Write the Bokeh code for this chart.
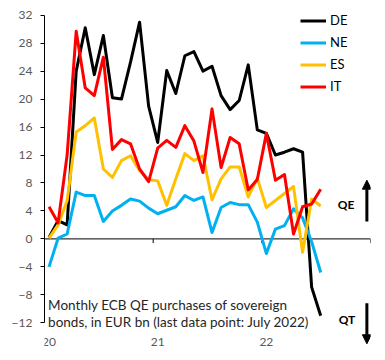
from bokeh.plotting import figure
from bokeh.models import (Range1d, FixedTicker, Span, Legend, LegendItem, Label,
                          Arrow, NormalHead)
from bokeh.embed import file_html
from bokeh.resources import INLINE

# Monthly ECB QE purchases of sovereign bonds, EUR bn, Jan 2020 .. Jul 2022
MONTHS = list(range(31))
DE = [0.2, 2.6, 2.0, 24.0, 30.2, 23.5, 29.1, 20.2, 20.0, 25.3, 31.0, 19.0,
      13.8, 24.1, 20.8, 26.2, 26.8, 24.0, 24.7, 20.5, 18.5, 19.8, 24.9, 15.6,
      15.1, 12.0, 12.4, 12.9, 12.4, -6.9, -11.0]
NE = [-4.0, 0.1, 0.7, 6.7, 6.2, 6.2, 2.5, 4.0, 4.8, 5.7, 5.4, 4.4,
      3.6, 4.1, 4.6, 6.2, 5.5, 6.0, 0.9, 4.5, 5.2, 4.9, 4.9, 2.4,
      -2.1, 1.4, 1.9, 4.3, 3.0, -0.4, -4.8]
ES = [0.1, 2.0, 5.5, 15.3, 16.2, 17.3, 10.0, 8.8, 11.2, 11.9, 9.8, 8.5,
      8.3, 4.8, 8.6, 12.2, 11.2, 11.9, 5.6, 8.6, 10.3, 10.3, 6.0, 8.7,
      4.5, 5.5, 6.5, 7.5, -1.9, 5.7, 4.7]
IT = [4.6, 2.3, 12.0, 29.7, 21.6, 20.5, 26.0, 12.8, 14.2, 13.6, 10.0, 8.2,
      13.0, 14.1, 13.1, 16.2, 14.0, 9.5, 18.6, 10.2, 14.5, 13.6, 7.0, 8.5,
      15.1, 8.4, 9.2, 0.7, 4.6, 5.0, 7.1]

SERIES_NAMES = ["DE", "NE", "ES", "IT"]
SERIES_VALUES = [DE, NE, ES, IT]
COLORS = ["#000000", "#00B0F0", "#FFC000", "#FF0000"]

Y_TICKS = list(range(-12, 33, 4))
YEAR_TICKS = [0, 12, 24]
YEAR_LABELS = ["20", "21", "22"]
YEAR_BOUNDS = [11.5, 23.5, 35.5]

FONT = "Lato"

p = figure(width=385, height=360, output_backend="svg", toolbar_location=None,
           x_range=Range1d(-0.5, 35.5), y_range=Range1d(-16.68, 33.39),
           min_border_left=44, min_border_right=15, min_border_top=5,
           min_border_bottom=5)
p.outline_line_color = None
p.grid.grid_line_color = None
p.background_fill_color = "white"

# y axis
p.yaxis.ticker = FixedTicker(ticks=Y_TICKS)
p.yaxis.bounds = (-12, 32)
p.yaxis.axis_line_color = "black"
p.yaxis.major_tick_line_color = "black"
p.yaxis.major_tick_out = 4
p.yaxis.major_tick_in = 0
p.yaxis.minor_tick_line_color = None
p.yaxis.major_label_standoff = 8
p.yaxis.major_label_text_font = FONT
p.yaxis.major_label_text_font_size = "12px"
p.yaxis.major_label_text_color = "#595959"

# x axis (labels only, low position)
p.xaxis.fixed_location = -12
p.xaxis.ticker = FixedTicker(ticks=YEAR_TICKS)
p.xaxis.major_label_overrides = {t: l for t, l in zip(YEAR_TICKS, YEAR_LABELS)}
p.xaxis.axis_line_color = None
p.xaxis.major_tick_line_color = None
p.xaxis.minor_tick_line_color = None
p.xaxis.major_tick_out = 0
p.xaxis.major_tick_in = 0
p.xaxis.major_label_standoff = 15
p.xaxis.major_label_text_font = FONT
p.xaxis.major_label_text_font_size = "12px"
p.xaxis.major_label_text_color = "#595959"

# zero line with year ticks
p.add_layout(Span(location=0, dimension="width", line_color="black",
                  line_width=1, level="underlay"))
p.segment(x0=YEAR_BOUNDS, y0=[0] * len(YEAR_BOUNDS), x1=YEAR_BOUNDS,
          y1=[-0.6] * len(YEAR_BOUNDS), line_color="black", line_width=1)

items = []
for name, vals, color in zip(SERIES_NAMES, SERIES_VALUES, COLORS):
    r = p.line(MONTHS, vals, line_color=color, line_width=3, line_join="round")
    items.append(LegendItem(label=name, renderers=[r]))

legend = Legend(items=items, location=(256, 261), orientation="vertical",
                glyph_width=26, glyph_height=15, label_height=15, spacing=6,
                padding=0, margin=0, label_standoff=4,
                background_fill_alpha=0, border_line_color=None,
                label_text_font=FONT, label_text_font_size="13px",
                label_text_color="black")
p.add_layout(legend)

p.add_layout(Label(x=-0.1, y=-9.4, text="Monthly ECB QE purchases of sovereign",
                   text_baseline="middle", text_align="left", text_font=FONT,
                   text_font_size="13.5px", text_color="#262626"))
p.add_layout(Label(x=-0.1, y=-11.9, text="bonds, in EUR bn (last data point: July 2022)",
                   text_baseline="middle", text_align="left", text_font=FONT,
                   text_font_size="13.5px", text_color="#262626"))

p.add_layout(Label(x=32.8, y=4.9, text="QE", text_baseline="middle",
                   text_align="center", text_font=FONT, text_font_size="12px",
                   text_font_style="bold", text_color="black"))
p.add_layout(Label(x=32.9, y=-11.5, text="QT", text_baseline="middle",
                   text_align="center", text_font=FONT, text_font_size="12px",
                   text_font_style="bold", text_color="black"))

p.add_layout(Arrow(x_start=35.1, y_start=2.5, x_end=35.1, y_end=8.4,
                   line_width=3, line_color="black",
                   end=NormalHead(size=9, fill_color="black", line_color="black")))
p.add_layout(Arrow(x_start=35.1, y_start=-9.2, x_end=35.1, y_end=-15.0,
                   line_width=3, line_color="black",
                   end=NormalHead(size=9, fill_color="black", line_color="black")))

open("out.html", "w").write(file_html(p, INLINE))
